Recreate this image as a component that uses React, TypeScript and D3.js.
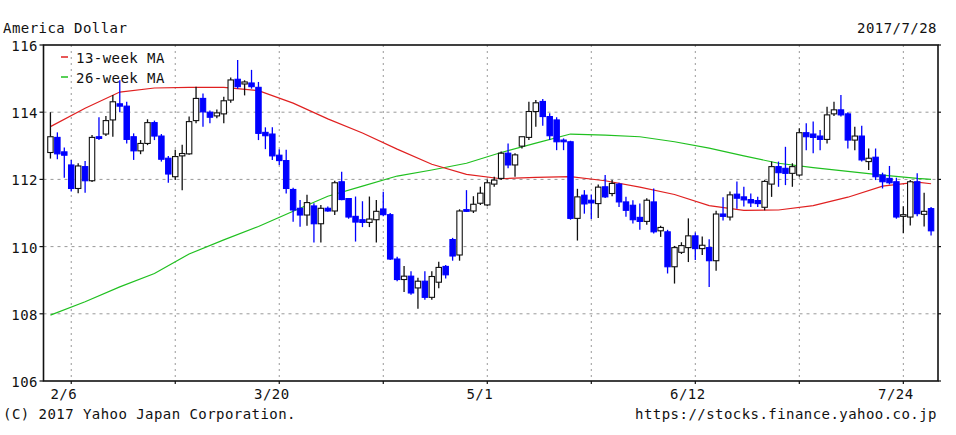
import React from 'react';
import * as d3 from 'd3';

// Daily USD/JPY candles, 2017/2/1 .. 2017/7/28 (weekdays)
const opens = [112.80,113.25,112.82,112.43,111.73,112.38,111.96,113.27,113.35,113.77,114.25,114.18,113.27,112.85,113.07,113.69,113.29,112.63,112.08,112.70,112.76,113.75,114.41,114.00,113.89,113.95,114.36,114.98,114.84,114.87,114.74,113.40,113.35,112.72,112.56,111.70,111.14,110.94,111.21,110.68,111.14,111.06,111.93,111.43,110.90,110.80,110.72,110.80,111.12,110.95,109.63,109.02,109.12,108.77,108.97,108.49,108.94,109.41,110.21,109.75,111.10,111.06,111.29,111.24,111.86,112.03,112.78,112.43,112.99,113.25,114.02,114.32,113.87,113.77,113.17,113.12,110.84,111.53,111.38,111.28,111.78,111.58,111.86,111.33,111.23,110.87,110.75,111.33,110.47,110.44,109.40,109.83,109.97,110.32,109.94,109.97,109.58,110.97,110.88,111.56,111.48,111.40,111.37,111.17,111.86,112.38,112.33,112.18,112.13,113.39,113.35,113.29,113.19,113.95,114.07,113.95,113.17,113.29,112.53,112.66,112.13,112.03,111.93,110.90,110.88,111.93,110.96,111.13];
const highs = [114.00,113.40,112.95,112.58,112.48,112.55,113.32,113.85,113.89,114.51,114.95,114.31,113.37,113.17,113.79,113.75,113.35,112.70,112.88,113.03,113.87,114.76,114.56,114.05,114.08,114.46,115.03,115.55,114.95,115.26,114.90,113.55,113.55,112.90,112.88,111.75,111.39,111.54,111.29,111.24,111.19,111.96,112.23,111.44,111.49,111.35,111.49,111.39,111.63,111.00,109.70,109.42,109.27,109.07,109.27,109.27,109.55,109.45,110.26,111.11,111.68,111.50,111.78,112.00,112.08,112.83,113.07,112.78,113.27,114.31,114.36,114.39,113.97,113.85,113.22,113.15,111.72,111.68,111.55,111.85,112.13,111.98,111.90,111.48,111.38,111.28,111.44,111.73,110.62,110.50,110.02,110.13,110.84,110.42,110.30,110.22,111.07,111.47,111.64,111.94,111.78,111.58,111.48,111.98,112.53,112.53,112.97,112.48,113.52,113.67,113.72,113.47,114.16,114.31,114.51,114.00,113.57,113.60,112.92,112.92,112.20,112.40,112.05,111.20,111.98,112.18,111.60,111.18];
const lows = [112.62,112.60,112.05,111.64,111.59,111.60,111.92,113.17,113.29,113.27,114.00,113.07,112.58,112.75,113.02,113.17,112.53,111.90,111.98,111.68,112.73,113.67,113.57,113.67,113.82,113.67,114.28,114.70,114.50,114.70,113.17,112.90,112.58,112.43,111.58,110.74,110.59,110.62,110.12,110.12,111.04,110.94,111.38,110.83,110.15,110.58,110.58,110.12,110.90,109.60,108.97,108.65,108.57,108.15,108.42,108.42,108.76,109.05,109.58,109.58,111.03,111.00,111.24,111.20,111.78,111.98,112.33,112.08,112.92,113.17,113.57,113.60,113.17,112.87,112.87,110.80,110.18,110.98,110.82,110.85,111.45,111.50,111.18,110.89,110.69,110.50,110.65,110.39,110.29,109.20,108.90,109.78,109.54,109.60,109.75,108.80,109.28,110.78,110.78,111.13,111.19,111.18,111.18,111.08,111.48,111.78,111.83,111.78,112.08,112.87,112.78,112.87,113.07,113.89,113.87,112.92,112.87,112.53,112.28,111.98,111.73,111.85,110.83,110.40,110.63,110.90,110.60,110.33];
const closes = [113.27,112.76,112.72,111.73,112.40,111.96,113.25,113.22,113.75,114.31,114.18,113.19,112.85,113.07,113.69,113.29,112.60,112.16,112.68,112.77,113.72,114.41,114.01,113.85,113.98,114.34,114.96,114.76,114.90,114.76,113.37,113.30,112.70,112.56,111.73,111.09,110.94,111.31,110.68,111.14,111.06,111.90,111.40,110.88,110.73,110.72,110.82,111.05,110.95,109.63,109.02,109.12,108.62,108.97,108.49,109.11,109.38,109.16,109.72,111.06,111.05,111.26,111.59,111.90,111.98,112.78,112.43,112.73,113.27,114.02,114.28,113.87,113.30,113.12,113.12,110.84,111.48,111.27,111.30,111.77,111.48,111.88,111.33,111.08,110.80,110.75,111.38,110.44,110.57,109.40,109.97,110.03,110.32,109.94,110.04,109.58,110.97,110.90,111.54,111.44,111.39,111.30,111.28,111.94,112.38,112.20,112.18,112.38,113.39,113.27,113.25,113.19,113.92,114.07,113.92,113.17,113.29,112.58,112.63,112.08,111.93,111.90,110.88,110.95,111.93,110.98,111.05,110.47];

// Moving averages read at weekly day indices
const maIndex = [0,5,10,15,20,25,30,35,40,45,50,55,60,65,70,75,80,85,90,95,100,105,110,115,120,125,127];
const ma13 = [113.57,114.12,114.60,114.72,114.74,114.74,114.64,114.27,113.80,113.38,112.90,112.45,112.15,112.02,112.06,112.08,111.96,111.77,111.55,111.22,111.08,111.09,111.22,111.47,111.80,111.92,111.87];
const ma26 = [107.96,108.36,108.80,109.20,109.78,110.20,110.60,111.05,111.50,111.80,112.10,112.28,112.48,112.80,113.08,113.35,113.32,113.27,113.12,112.93,112.70,112.48,112.35,112.24,112.13,112.03,112.00];

const yTicks = [106, 108, 110, 112, 114, 116];
const seriesNames = ['13-week MA', '26-week MA'];
const seriesColors = ['#e02020', '#20c020'];
const titleText = 'America Dollar';
const dateText = '2017/7/28';
const copyrightText = '(C) 2017 Yahoo Japan Corporation.';
const urlText = 'https://stocks.finance.yahoo.co.jp';

const FONT = '"DejaVu Sans Mono", "Liberation Mono", monospace';

export default function App() {
  const W = 956, H = 435;
  const left = 43.5, right = 938, top = 45, bottom = 381;

  const days = d3.timeDay
    .range(new Date(2017, 1, 1), new Date(2017, 6, 29))
    .filter((d) => d.getDay() !== 0 && d.getDay() !== 6)
    .slice(0, opens.length);
  const keys = days.map((d) => +d);

  const x = d3.scaleBand<number>().domain(keys).range([left, right]).paddingInner(0).paddingOuter(0.5);
  const cx = (i: number) => (x(keys[i]) as number) + x.bandwidth() / 2;
  const y = d3.scaleLinear().domain([106, 116]).range([bottom, top]);

  const gridMondays = d3.timeMonday.range(new Date(2017, 1, 6), new Date(2017, 6, 29), 3);
  const fmt = d3.timeFormat('%-m/%-d');
  const grid = gridMondays.map((d, k) => ({ xPos: cx(keys.indexOf(+d)), label: k % 2 === 0 ? fmt(d) : '' }));

  const mkPath = (vals: number[]) =>
    d3.line<number>().x((_, k) => cx(maIndex[k])).y((v) => y(v))(vals) as string;

  const bw = 5.4;
  const txt = { fontFamily: FONT, fontSize: 14, letterSpacing: 0.45, fill: '#111' } as const;

  return (
    <svg width={W} height={H} style={{ position: 'absolute', left: 0, top: 0, background: '#fff' }}>
      <rect x={0} y={0} width={W} height={H} fill="#fff" />
      {/* grid */}
      {yTicks.slice(1, -1).map((t) => (
        <line key={'gy' + t} x1={left} x2={right} y1={y(t)} y2={y(t)} stroke="#999" strokeWidth={1} strokeDasharray="3,4" />
      ))}
      {grid.map((g, k) => (
        <line key={'gx' + k} x1={g.xPos} x2={g.xPos} y1={top} y2={bottom} stroke="#999" strokeWidth={1} strokeDasharray="2,4" />
      ))}
      {/* MA lines */}
      <path d={mkPath(ma26)} fill="none" stroke={seriesColors[1]} strokeWidth={1.2} />
      <path d={mkPath(ma13)} fill="none" stroke={seriesColors[0]} strokeWidth={1.2} />
      {/* candles */}
      {opens.map((o, i) => {
        const c = closes[i];
        const up = c >= o;
        const col = up ? '#111' : '#0000ff';
        const yTop = y(Math.max(o, c));
        const h = Math.max(1, Math.abs(y(o) - y(c)));
        return (
          <g key={'c' + i}>
            <line x1={cx(i)} x2={cx(i)} y1={y(highs[i])} y2={y(lows[i])} stroke={col} strokeWidth={1.3} />
            <rect x={cx(i) - bw / 2} y={yTop} width={bw} height={h} fill={up ? '#fff' : '#0000ff'} stroke={col} strokeWidth={1.1} />
          </g>
        );
      })}
      {/* frame */}
      <rect x={left} y={top} width={right - left} height={bottom - top} fill="none" stroke="#111" strokeWidth={1.6} />
      {yTicks.map((t) => (
        <g key={'yt' + t}>
          <line x1={left - 4} x2={left} y1={y(t)} y2={y(t)} stroke="#111" strokeWidth={1.2} />
          <line x1={right} x2={right + 3} y1={y(t)} y2={y(t)} stroke="#111" strokeWidth={1.2} />
          <text x={38} y={y(t) + 6} textAnchor="end" {...txt}>{t}</text>
        </g>
      ))}
      {grid.map((g, k) => (
        <g key={'xt' + k}>
          <line x1={g.xPos} x2={g.xPos} y1={bottom} y2={bottom + 3} stroke="#111" strokeWidth={1.2} />
          {g.label && (
            <text x={g.xPos - 7.5} y={399} textAnchor="middle" {...txt}>{g.label}</text>
          )}
        </g>
      ))}
      {/* legend */}
      {seriesNames.map((n, k) => (
        <g key={'lg' + k}>
          <line x1={61} x2={68} y1={57 + k * 20} y2={57 + k * 20} stroke={seriesColors[k]} strokeWidth={1.5} />
          <text x={76} y={63 + k * 20} {...txt}>{n}</text>
        </g>
      ))}
      {/* titles */}
      <text x={3} y={33} {...txt}>{titleText}</text>
      <text x={937} y={33} textAnchor="end" {...txt}>{dateText}</text>
      <text x={3} y={419} {...txt}>{copyrightText}</text>
      <text x={937} y={419} textAnchor="end" {...txt}>{urlText}</text>
    </svg>
  );
}
